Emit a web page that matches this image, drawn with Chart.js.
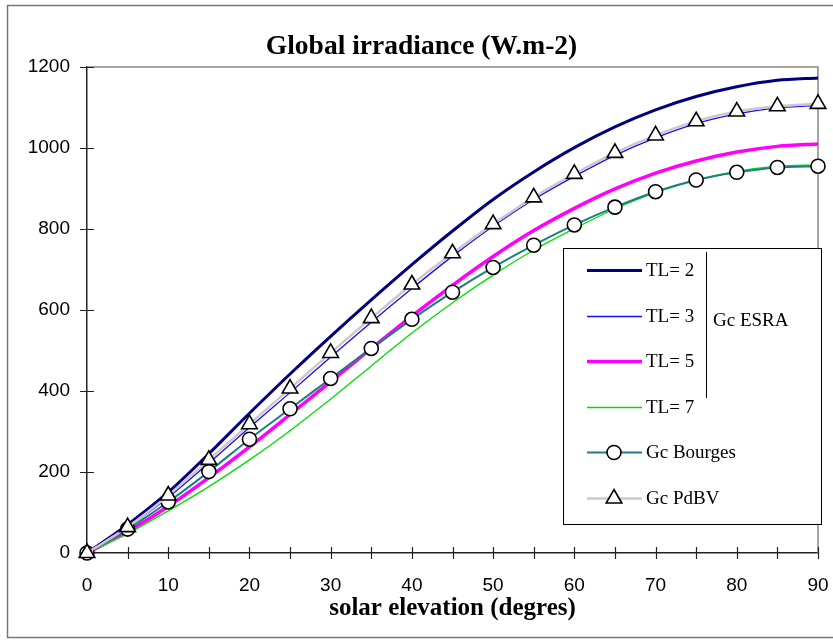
<!DOCTYPE html>
<html>
<head>
<meta charset="utf-8">
<title>Global irradiance</title>
<script src="https://cdn.jsdelivr.net/npm/chart.js@4.4.1/dist/chart.umd.min.js"></script>
<style>
  body { margin: 0; background: #fff; }
  #lienzo { display: block; }
</style>
</head>
<body>
<canvas id="lienzo" width="833" height="641"></canvas>
<script>
'use strict';

// elevacion solar (grados) y series
const elevacion = [0, 5, 10, 15, 20, 25, 30, 35, 40, 45, 50, 55, 60, 65, 70, 75, 80, 85, 90];
const tl2 = [0, 70, 150, 245, 345, 442, 535, 625, 712, 795, 873, 941, 1001, 1052, 1094, 1127, 1151, 1167, 1173];
const tl3 = [0, 63, 137, 222, 310, 396, 484, 570, 653, 733, 807, 873, 930, 982, 1025, 1060, 1084, 1099, 1105];
const tl5 = [0, 53, 115, 186, 262, 342, 423, 505, 585, 661, 732, 796, 851, 899, 938, 968, 990, 1004, 1010];
const tl7 = [0, 48, 104, 164, 230, 302, 380, 462, 543, 618, 686, 748, 801, 850, 890, 920, 942, 955, 958];
const bourges = [0, 59, 126, 201, 281, 356, 431, 505, 577, 644, 705, 760, 810, 854, 892, 921, 940, 952, 955];
const pdbv = [0, 64, 142, 230, 318, 406, 494, 580, 663, 740, 812, 878, 936, 988, 1031, 1066, 1090, 1103, 1109];

const etiquetas = ['TL= 2', 'TL= 3', 'TL= 5', 'TL= 7', 'Gc Bourges', 'Gc PdBV'];
const grupoEsra = 'Gc ESRA';

const puntos = (vals) => elevacion.map((e, i) => ({ x: e, y: vals[i] }));

// marco exterior y bordes del area de trazado
const marco = {
    id: 'marco',
    beforeDraw(chart) {
        const ctx = chart.ctx;
        ctx.save();
        ctx.fillStyle = '#fff';
        ctx.fillRect(0, 0, chart.width, chart.height);
        ctx.strokeStyle = '#777';
        ctx.lineWidth = 1.5;
        ctx.strokeRect(7.5, 5.5, chart.width + 10, 632);
        ctx.restore();
    },
    beforeDatasetsDraw(chart) {
        const { ctx, chartArea: a } = chart;
        ctx.save();
        ctx.strokeStyle = '#888';
        ctx.lineWidth = 1.5;
        ctx.beginPath();
        ctx.moveTo(a.left, a.top);
        ctx.lineTo(a.right, a.top);
        ctx.lineTo(a.right, a.bottom);
        ctx.stroke();
        // marcas de los ejes, cruzando la linea del eje
        ctx.strokeStyle = '#222';
        ctx.lineWidth = 1.2;
        const sx = chart.scales.x, sy = chart.scales.y;
        ctx.beginPath();
        for (let v = 0; v <= 90; v += 5) {
            const px = Math.round(sx.getPixelForValue(v)) + 0.5;
            ctx.moveTo(px, a.bottom - 6);
            ctx.lineTo(px, a.bottom + 6);
        }
        for (let v = 0; v <= 1200; v += 200) {
            const py = Math.round(sy.getPixelForValue(v)) + 0.5;
            ctx.moveTo(a.left - 7, py);
            ctx.lineTo(a.left + 7, py);
        }
        ctx.stroke();
        ctx.restore();
    }
};

// leyenda con la llave "Gc ESRA"
const leyenda = {
    id: 'leyenda',
    afterDraw(chart) {
        const { ctx, chartArea: a } = chart;
        const left = a.right - 255, right = a.right + 3;
        const top = a.top + 181, bottom = a.bottom - 29;
        ctx.save();
        ctx.fillStyle = '#fff';
        ctx.fillRect(left, top, right - left, bottom - top);
        ctx.strokeStyle = '#000';
        ctx.lineWidth = 1;
        ctx.strokeRect(left + 0.5, top + 0.5, right - left, bottom - top);

        ctx.font = '19px "Liberation Serif"';
        ctx.textBaseline = 'middle';
        ctx.textAlign = 'left';
        chart.data.datasets.forEach((ds, i) => {
            const y = Math.round(top + 22 + i * 45.6) + 0.5;
            ctx.strokeStyle = ds.borderColor;
            ctx.lineWidth = ds.borderWidth;
            ctx.beginPath();
            ctx.moveTo(left + 24, y);
            ctx.lineTo(left + 79, y);
            ctx.stroke();
            if (ds.pointRadius > 0) {
                ctx.fillStyle = ds.pointBackgroundColor;
                ctx.strokeStyle = ds.pointBorderColor;
                ctx.lineWidth = ds.pointBorderWidth;
                Chart.helpers.drawPoint(ctx, {
                    pointStyle: ds.pointStyle,
                    radius: ds.pointRadius,
                    rotation: 0,
                    borderWidth: ds.pointBorderWidth
                }, left + 51, y);
            }
            ctx.fillStyle = '#000';
            ctx.fillText(ds.label, left + 83, y + 1);
        });
        ctx.strokeStyle = '#000';
        ctx.lineWidth = 1;
        ctx.beginPath();
        ctx.moveTo(left + 143.5, top + 4);
        ctx.lineTo(left + 143.5, top + 150);
        ctx.stroke();
        ctx.fillStyle = '#000';
        ctx.fillText(grupoEsra, left + 150, top + 73);
        ctx.restore();
    }
};

const serie = (label, vals, color, width, extra) => Object.assign({
    label: label,
    data: puntos(vals),
    borderColor: color,
    backgroundColor: color,
    borderWidth: width,
    pointRadius: 0,
    tension: 0.3,
    clip: false
}, extra || {});

const ctx = document.getElementById('lienzo');
const myChart = new Chart(ctx, {
    type: 'line',
    data: {
        datasets: [
            serie(etiquetas[0], tl2, '#000080', 3, { order: 5 }),
            serie(etiquetas[1], tl3, '#1010ff', 1.3, { order: 4 }),
            serie(etiquetas[2], tl5, '#ff00ff', 3.5, { order: 3 }),
            serie(etiquetas[3], tl7, '#00e000', 1.3, { order: 2 }),
            serie(etiquetas[4], bourges, '#1a7f7f', 2, {
                order: 1,
                pointRadius: 7,
                pointStyle: 'circle',
                pointBackgroundColor: '#fff',
                pointBorderColor: '#000',
                pointBorderWidth: 1.6
            }),
            serie(etiquetas[5], pdbv, '#d4c4cc', 2.5, {
                order: 0,
                pointRadius: 9,
                pointStyle: 'triangle',
                pointBackgroundColor: '#fff',
                pointBorderColor: '#000',
                pointBorderWidth: 1.6
            })
        ]
    },
    options: {
        responsive: false,
        animation: false,
        layout: { padding: { left: 10, right: 0, top: 0, bottom: 0 } },
        plugins: {
            legend: { display: false },
            tooltip: { enabled: false },
            title: {
                display: true,
                text: 'Global irradiance (W.m-2)',
                color: '#000',
                font: { family: 'Liberation Serif', size: 27.5, weight: 'bold' },
                padding: { top: 30, bottom: 4 }
            }
        },
        scales: {
            x: {
                type: 'linear',
                min: 0,
                max: 90,
                afterFit: (scale) => {
                    scale.height = 88;
                    scale.paddingRight = 15;
                    scale.paddingLeft = 0;
                },
                ticks: {
                    stepSize: 10,
                    color: '#000',
                    padding: 13,
                    font: { family: 'Liberation Sans', size: 19 }
                },
                grid: { display: false },
                border: { display: true, color: '#222', width: 1.5 },
                title: {
                    display: true,
                    text: 'solar elevation (degres)',
                    color: '#000',
                    font: { family: 'Liberation Serif', size: 25, weight: 'bold' },
                    padding: { top: 0, bottom: 17 }
                }
            },
            y: {
                min: 0,
                max: 1200,
                afterFit: (scale) => { scale.width = 77; },
                ticks: {
                    stepSize: 200,
                    color: '#000',
                    padding: 9,
                    format: { useGrouping: false },
                    font: { family: 'Liberation Sans', size: 19 }
                },
                grid: { display: false },
                border: { display: true, color: '#222', width: 1.5 }
            }
        }
    },
    plugins: [marco, leyenda]
});
</script>
</body>
</html>
